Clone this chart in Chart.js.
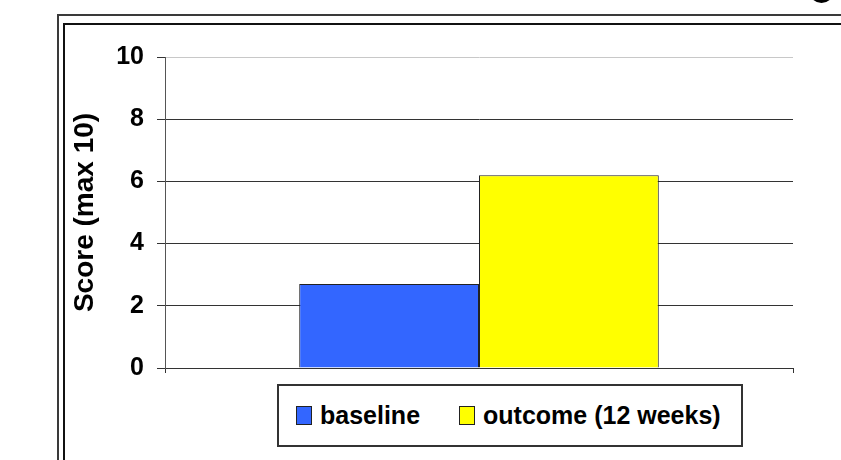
<!DOCTYPE html>
<html>
<head>
<meta charset="utf-8">
<script src="https://cdn.jsdelivr.net/npm/chart.js@4/dist/chart.umd.min.js"></script>
<style>
  html, body { margin: 0; padding: 0; background: #fff; }
  #wrap { position: relative; width: 841px; height: 460px; overflow: hidden; font-family: "Liberation Sans", Arial, sans-serif; }
  .frame { position: absolute; right: -20px; bottom: -20px; border-left: 2px solid #3a3a3a; border-top: 2px solid #3a3a3a; }
  #frameOuter { left: 57px; top: 14px; }
  #frameInner { left: 63px; top: 23px; border-color: #111; }
  #blob { position: absolute; left: 809px; top: -22px; width: 25px; height: 25px; border-radius: 50%; background: #000; }
  #chartBox { position: absolute; left: 0; top: 0; width: 841px; height: 460px; }
  #legend { position: absolute; left: 277px; top: 384px; width: 466px; height: 63px; box-sizing: border-box;
            border: 2px solid #333; display: flex; align-items: center; padding-left: 17px; background: #fff;
            white-space: nowrap; }
  .item { display: flex; align-items: center; margin-right: 39px; font-weight: bold; font-size: 25px; color: #000; flex: none; }
  .item:last-child { margin-right: 0; }
  .swatch { width: 16px; height: 19px; box-sizing: border-box; border: 1px solid #222; margin-right: 8px; flex: none; }
</style>
</head>
<body>
<div id="wrap">
  <div id="frameOuter" class="frame"></div>
  <div id="frameInner" class="frame"></div>
  <div id="blob"></div>
  <div id="chartBox"><canvas id="myChart"></canvas></div>
  <div id="legend"></div>
</div>
<script>
// one group, two bars
const categories = [""];
const baseline = [2.7];
const outcome = [6.2];
const seriesNames = ["baseline", "outcome (12 weeks)"];
const barColors = ["#3366ff", "#ffff00"];
const yTicks = [0, 2, 4, 6, 8, 10];

const chart = new Chart("myChart", {
  type: "bar",
  data: {
    labels: categories,
    datasets: [
      {
        label: seriesNames[0],
        data: baseline,
        backgroundColor: barColors[0],
        borderColor: "#222",
        borderWidth: 1,
      },
      {
        label: seriesNames[1],
        data: outcome,
        backgroundColor: barColors[1],
        borderColor: "#222",
        borderWidth: 1,
      },
    ],
  },
  options: {
    responsive: true,
    maintainAspectRatio: false,
    animation: false,
    layout: { padding: { left: 64, top: 57, right: 48, bottom: 87 } },
    datasets: { bar: { categoryPercentage: 0.5726, barPercentage: 1.0 } },
    plugins: {
      legend: { display: false },
      tooltip: { enabled: false },
    },
    scales: {
      x: {
        grid: {
          drawOnChartArea: false,
          drawTicks: true,
          tickLength: 5,
          color: "#333",
        },
        border: { color: "#333", width: 1 },
        ticks: { display: false },
      },
      y: {
        min: yTicks[0],
        max: yTicks[yTicks.length - 1],
        afterBuildTicks: (scale) => {
          scale.ticks = yTicks.map((v) => ({ value: v }));
        },
        afterFit: (scale) => {
          scale.width = 101;
        },
        grid: {
          color: (ctx) => (ctx.tick && ctx.tick.value === 10 ? "#c8c8c8" : "#333"),
          tickColor: "#333",
          tickLength: 8,
        },
        border: { color: "#555", width: 1 },
        ticks: {
          padding: 13,
          color: "#000",
          font: { family: "'Liberation Sans', Arial, sans-serif", size: 25, weight: "bold" },
        },
        title: {
          display: true,
          text: "Score (max 10)",
          color: "#000",
          font: { family: "'Liberation Sans', Arial, sans-serif", size: 28, weight: "bold" },
        },
      },
    },
  },
});

// legend built from the chart's datasets
const legendEl = document.getElementById("legend");
chart.data.datasets.forEach((ds) => {
  const item = document.createElement("div");
  item.className = "item";
  const sw = document.createElement("span");
  sw.className = "swatch";
  sw.style.background = ds.backgroundColor;
  const txt = document.createElement("span");
  txt.innerText = ds.label;
  item.appendChild(sw);
  item.appendChild(txt);
  legendEl.appendChild(item);
});
</script>
</body>
</html>
